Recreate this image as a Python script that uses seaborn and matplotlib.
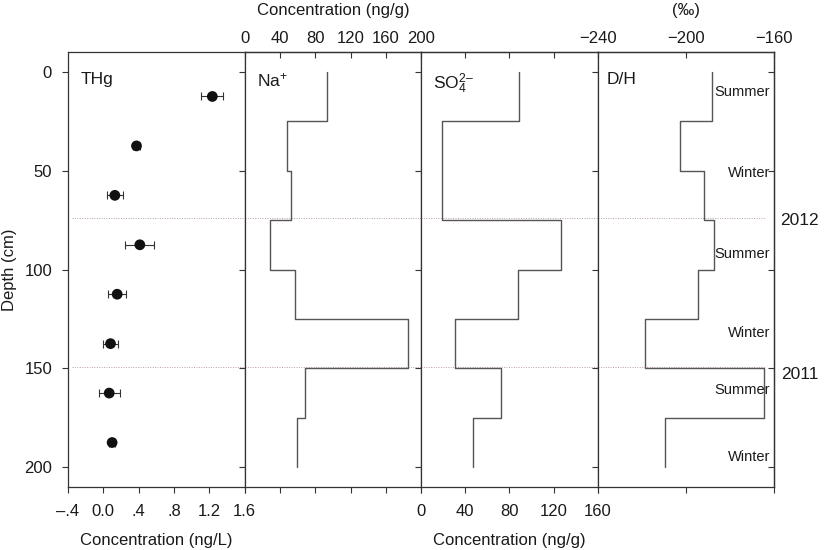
import numpy as np
import pandas as pd
import matplotlib
matplotlib.use("Agg")
import matplotlib.pyplot as plt
import seaborn as sns

# ── Data ──────────────────────────────────────────────────────────────────────
depth_edges = [0, 25, 50, 75, 100, 125, 150, 175, 200]
thg_depth = [12.5, 37.5, 62.5, 87.5, 112.5, 137.5, 162.5, 187.5]
thg_conc = [1.235, 0.376, 0.131, 0.414, 0.157, 0.082, 0.067, 0.100]
thg_err = [0.124, 0.045, 0.090, 0.164, 0.105, 0.085, 0.117, 0.030]
na_conc = [93.2, 48.4, 52.3, 29.1, 57.5, 184.8, 68.9, 59.4]
so4_conc = [88.5, 19.1, 19.1, 126.9, 88.2, 30.6, 72.4, 47.0]
dh_ratio = [-188.2, -202.8, -192.0, -187.2, -194.7, -218.8, -164.6, -209.7]
season_labels = ["Summer", "Winter", "Summer", "Winter", "Summer", "Winter"]
season_depth = [10, 51, 92, 132, 161, 195]
year_labels = ["2012", "2011"]
year_depth = [75, 153]
year_lines = [74, 149.5]

depth_ticks = [0, 50, 100, 150, 200]
thg_ticks = [-0.4, 0.0, 0.4, 0.8, 1.2, 1.6]
thg_ticklabels = ["\u2013.4", "0.0", ".4", ".8", "1.2", "1.6"]
na_ticks = [0, 40, 80, 120, 160, 200]
so4_ticks = [0, 40, 80, 120, 160]
dh_ticks = [-240, -200, -160]

# ── Style ─────────────────────────────────────────────────────────────────────
sns.set_theme(style="ticks")
plt.rcParams["font.family"] = ["Liberation Sans", "DejaVu Sans"]
plt.rcParams.update({
    "mathtext.fontset": "custom",
    "mathtext.rm": "Liberation Sans",
    "mathtext.it": "Liberation Sans",
    "mathtext.default": "regular",
    "axes.edgecolor": "#333333",
    "axes.linewidth": 0.9,
    "xtick.color": "#333333",
    "ytick.color": "#333333",
    "xtick.labelcolor": "#1a1a1a",
    "ytick.labelcolor": "#1a1a1a",
    "xtick.major.size": 4.5,
    "ytick.major.size": 4.5,
    "xtick.major.width": 0.8,
    "ytick.major.width": 0.8,
    "xtick.labelsize": 12,
    "ytick.labelsize": 12,
})
LINE = "#555555"
TXT = "#1a1a1a"
LAB = 12


def profile(values):
    # vertical step profile: each value holds over one depth interval
    return pd.DataFrame({
        "x": np.repeat(values, 2),
        "y": np.column_stack([depth_edges[:-1], depth_edges[1:]]).ravel(),
    })


fig, axes = plt.subplots(1, 4, figsize=(8.29, 5.5), dpi=100, sharey=True)
fig.subplots_adjust(left=0.082, right=0.934, top=0.9055, bottom=0.1145, wspace=0)
ax1, ax2, ax3, ax4 = axes

# dotted year boundaries start just inside panel 1 and stop short of panel 4's edge
line_span = [(0.02, 1.0), (0.0, 1.0), (0.0, 1.0), (0.0, 0.95)]
for ax, (x0, x1) in zip(axes, line_span):
    ax.set_ylim(210, -10)
    ax.set_yticks(depth_ticks)
    ax.tick_params(axis="y", direction="out", left=True, right=False, pad=7)
    ax.tick_params(axis="x", direction="out", bottom=True, top=False, pad=8)
    for ln in year_lines:
        ax.axhline(ln, xmin=x0, xmax=x1, color="#b8a0a0", lw=0.7,
                   ls=(0, (1, 1.5)), zorder=0)
for ax in axes[1:]:
    ax.tick_params(axis="y", labelleft=False)

# ── THg ───────────────────────────────────────────────────────────────────────
ax1.errorbar(thg_conc, thg_depth, xerr=thg_err, fmt="none", ecolor="#333333",
             elinewidth=0.8, capsize=3, capthick=0.8, zorder=2)
sns.scatterplot(x=thg_conc, y=thg_depth, s=60, color="#111111", edgecolor="none",
                ax=ax1, zorder=3, legend=False)
ax1.set_xlim(-0.4, 1.6)
ax1.set_xticks(thg_ticks)
ax1.set_xticklabels(thg_ticklabels)
ax1.set_xlabel("Concentration (ng/L)", fontsize=LAB, color=TXT, labelpad=10)
ax1.set_ylabel("Depth (cm)", fontsize=LAB, color=TXT, labelpad=5)
ax1.text(0.07, 0.955, "THg", transform=ax1.transAxes, fontsize=12.5, color=TXT, va="top")

# ── Na+ ───────────────────────────────────────────────────────────────────────
sns.lineplot(data=profile(na_conc), x="x", y="y", sort=False, estimator=None,
             color=LINE, lw=1.0, ax=ax2)
ax2.set_xlim(0, 200)
ax2.set_xticks(na_ticks)
ax2.tick_params(axis="x", labelbottom=False)
ax2.set_xlabel("")
ax2.set_ylabel("")
top2 = ax2.secondary_xaxis("top")
top2.set_xticks(na_ticks)
top2.tick_params(direction="in", length=4.5, width=0.8, pad=4, labelsize=12)
top2.set_xlabel("Concentration (ng/g)", fontsize=LAB, color=TXT, labelpad=12)
ax2.text(0.07, 0.955, "Na$^{+}$", transform=ax2.transAxes, fontsize=12.5, color=TXT, va="top")

# ── SO4 ───────────────────────────────────────────────────────────────────────
sns.lineplot(data=profile(so4_conc), x="x", y="y", sort=False, estimator=None,
             color=LINE, lw=1.0, ax=ax3)
ax3.set_xlim(0, 160)
ax3.set_xticks(so4_ticks)
ax3.set_xlabel("Concentration (ng/g)", fontsize=LAB, color=TXT, labelpad=10)
ax3.set_ylabel("")
top3 = ax3.secondary_xaxis("top")
top3.set_xticks(so4_ticks)
top3.tick_params(direction="in", length=4.5, width=0.8, labeltop=False)
ax3.text(0.07, 0.955, "SO$_{4}^{2\u2013}$", transform=ax3.transAxes, fontsize=12.5,
         color=TXT, va="top")

# ── D/H ───────────────────────────────────────────────────────────────────────
sns.lineplot(data=profile(dh_ratio), x="x", y="y", sort=False, estimator=None,
             color=LINE, lw=1.0, ax=ax4)
ax4.set_xlim(-240, -160)
ax4.set_xticks(dh_ticks)
ax4.tick_params(axis="x", labelbottom=False)
ax4.set_xlabel("")
ax4.set_ylabel("")
top4 = ax4.secondary_xaxis("top")
top4.set_xticks(dh_ticks)
top4.tick_params(direction="in", length=4.5, width=0.8, pad=4, labelsize=12)
top4.set_xlabel("(\u2030)", fontsize=LAB, color=TXT, labelpad=12)
right4 = ax4.secondary_yaxis("right")
right4.set_yticks(depth_ticks)
right4.tick_params(direction="in", length=4.5, width=0.8, labelright=False)
ax4.text(0.05, 0.955, "D/H", transform=ax4.transAxes, fontsize=12.5, color=TXT, va="top")

trans4 = ax4.get_yaxis_transform()
for lab, d in zip(season_labels, season_depth):
    ax4.text(0.975, d, lab, transform=trans4, ha="right", va="center",
             fontsize=10.5, color=TXT)
for lab, d in zip(year_labels, year_depth):
    ax4.text(1.145, d, lab, transform=trans4, ha="center", va="center",
             fontsize=12.5, color=TXT, clip_on=False)

plt.savefig("out.png", dpi=100)
plt.close()
